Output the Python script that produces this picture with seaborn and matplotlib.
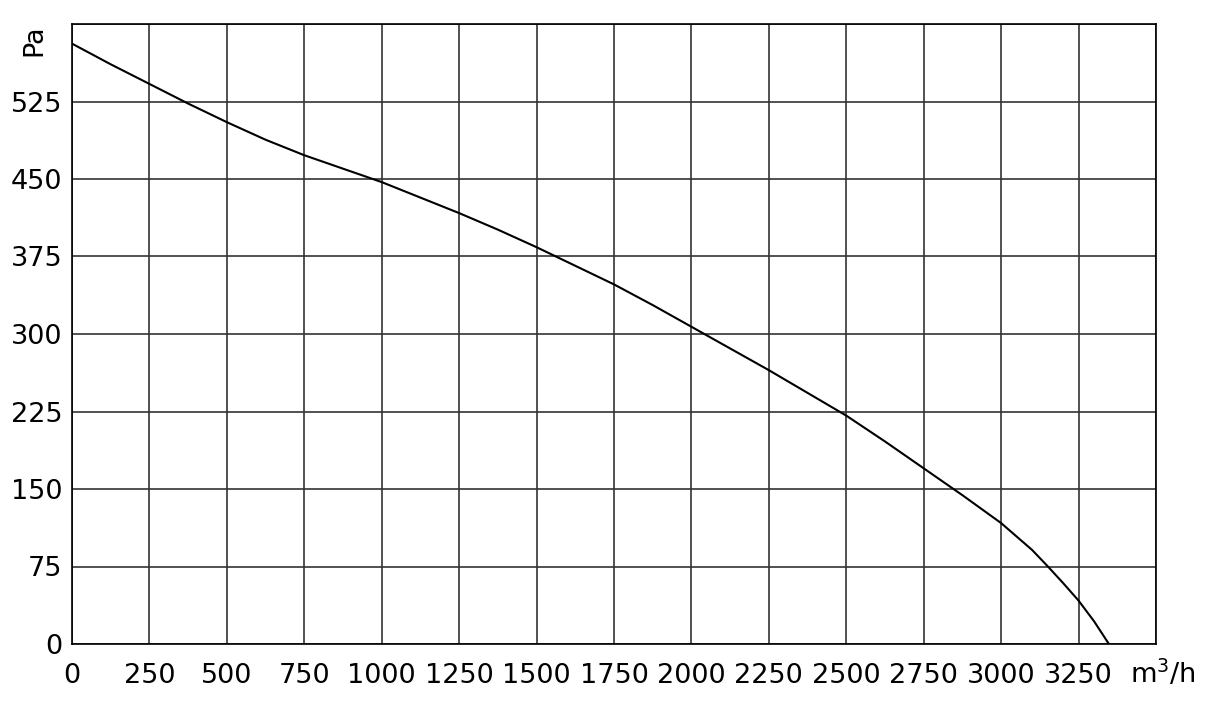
import matplotlib
matplotlib.use("Agg")
import matplotlib.pyplot as plt
import seaborn as sns
import pandas as pd

# Fan curve
airflow = [0, 125, 250, 375, 500, 625, 750, 875, 1000, 1125, 1250, 1375, 1500,
           1625, 1750, 1875, 2000, 2125, 2250, 2375, 2500, 2625, 2750, 2875,
           3000, 3100, 3151, 3200, 3250, 3300, 3348]
pressure = [581, 561, 542, 523, 505, 488, 473, 460, 447, 432, 417, 401, 384,
            366, 348, 328, 307, 286, 265, 243, 221, 196, 170, 144,
            117, 91, 75, 59, 42, 22, 0]

x_ticks = [0, 250, 500, 750, 1000, 1250, 1500, 1750, 2000, 2250, 2500, 2750, 3000, 3250, 3500]
y_ticks = [0, 75, 150, 225, 300, 375, 450, 525, 600]
x_labels = [str(v) for v in x_ticks[:-1]] + [""]
y_labels = [str(v) for v in y_ticks[:-1]] + [""]

df = pd.DataFrame({"airflow": airflow, "pressure": pressure})

sns.set_style("white")
plt.rcParams['font.family'] = ['DejaVu Sans']

fig = plt.figure(figsize=(12.06, 7.1), dpi=100)
ax = fig.add_axes([72 / 1206, 66 / 710, 1084 / 1206, 620 / 710])

sns.lineplot(data=df, x="airflow", y="pressure", color="black", linewidth=1.5, ax=ax, sort=False)

ax.set_xlim(0, 3500)
ax.set_ylim(0, 600)
ax.set_xticks(x_ticks)
ax.set_yticks(y_ticks)
ax.set_xticklabels(x_labels, fontsize=19.5, color="black")
ax.set_yticklabels(y_labels, fontsize=19.5, color="black")
ax.tick_params(axis="x", length=0, pad=14)
ax.tick_params(axis="y", length=0, pad=7)
ax.set_xlabel("")
ax.set_ylabel("")

ax.grid(True, color="#333333", linewidth=1.2)
for s in ax.spines.values():
    s.set_color("black")
    s.set_linewidth(1.2)

fig.text(34 / 1206, 1 - 40 / 710, "Pa", fontsize=19.5, rotation=90, ha="center", va="center", color="black")
fig.text(1163 / 1206, 1 - 674 / 710, "m$^3$/h", fontsize=19.5, ha="center", va="center", color="black")

fig.savefig("out.png", dpi=100)
